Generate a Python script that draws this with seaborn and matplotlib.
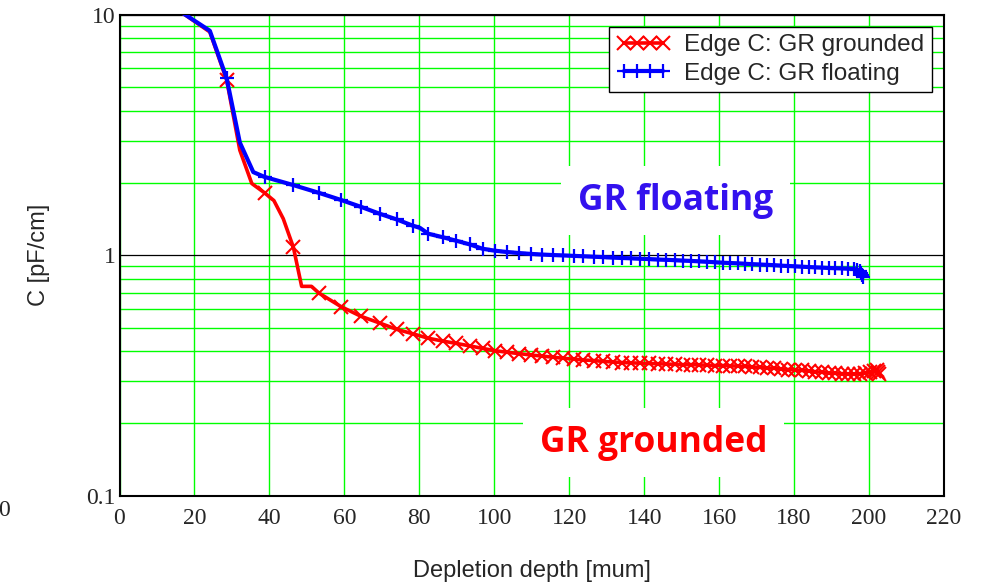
import matplotlib
matplotlib.use("Agg")
import matplotlib.pyplot as plt
import matplotlib.ticker as mticker
import numpy as np
import pandas as pd
import seaborn as sns

# ---------------- data ----------------
grounded_x = [16.0, 24.1, 28.6, 32.1, 35.3, 38.7, 41.2, 43.7, 46.4, 48.6, 51.2, 53.2,
              59.1, 64.5, 69.4, 74.0, 78.2, 82.4, 86.2, 89.9, 93.5, 96.9, 100.3, 103.5,
              106.7, 109.7, 112.7, 115.6, 118.4, 121.2, 123.8, 126.5, 129.1, 131.6, 134.1,
              136.5, 138.9, 141.3, 143.6, 145.9, 148.1, 150.3, 152.5, 154.7, 156.8, 158.9,
              160.9, 163.0, 165.0, 167.0, 168.9, 170.9, 172.8, 174.7, 176.6, 178.4, 180.3,
              182.1, 183.9, 185.7, 187.5, 189.2, 190.9, 192.7, 194.4, 196.1, 197.7, 199.0,
              200.2, 201.2, 202.0, 202.4, 202.6]
grounded_y = [10.4, 8.5, 5.36, 2.74, 1.99, 1.82, 1.69, 1.42, 1.08, 0.743, 0.743, 0.697,
              0.612, 0.557, 0.523, 0.492, 0.472, 0.452, 0.440, 0.430, 0.420, 0.410, 0.401, 0.395,
              0.390, 0.385, 0.381, 0.377, 0.373, 0.370, 0.367, 0.365, 0.362, 0.360, 0.358,
              0.357, 0.356, 0.355, 0.354, 0.353, 0.352, 0.351, 0.351, 0.350, 0.349, 0.348,
              0.348, 0.347, 0.346, 0.345, 0.343, 0.342, 0.340, 0.339, 0.337, 0.335, 0.334,
              0.332, 0.330, 0.328, 0.326, 0.324, 0.323, 0.322, 0.321, 0.321, 0.322, 0.325,
              0.328, 0.331, 0.333, 0.328, 0.322]
grounded_unmarked = [0, 1, 3, 4, 6, 7, 9, 10]

floating_x = [16.0, 24.1, 28.6, 32.1, 35.7, 38.7, 46.4, 53.2, 59.1, 64.5, 69.4, 74.0,
              78.2, 80.2, 82.4, 86.2, 89.9, 93.5, 96.9, 100.3, 103.5, 106.7, 109.7, 112.7,
              115.6, 118.4, 121.2, 123.8, 126.5, 129.1, 131.6, 134.1, 136.5, 138.9, 141.3,
              143.6, 145.9, 148.1, 150.3, 152.5, 154.7, 156.8, 158.9, 160.9, 163.0, 165.0,
              167.0, 168.9, 170.9, 172.8, 174.7, 176.6, 178.4, 180.3, 182.1, 183.9, 185.7,
              187.5, 189.2, 190.9, 192.7, 194.4, 196.1, 196.9, 197.5, 197.9, 198.2, 198.4]
floating_y = [10.4, 8.6, 5.45, 2.95, 2.22, 2.12, 1.96, 1.82, 1.70, 1.59, 1.49, 1.41,
              1.33, 1.30, 1.23, 1.19, 1.15, 1.11, 1.065, 1.045, 1.032, 1.022, 1.014, 1.008,
              1.003, 0.999, 0.995, 0.991, 0.987, 0.983, 0.979, 0.975, 0.972, 0.968, 0.965,
              0.961, 0.958, 0.955, 0.951, 0.948, 0.944, 0.940, 0.936, 0.932, 0.929, 0.926,
              0.922, 0.919, 0.916, 0.913, 0.910, 0.906, 0.903, 0.900, 0.897, 0.894, 0.891,
              0.889, 0.886, 0.884, 0.882, 0.880, 0.878, 0.872, 0.860, 0.845, 0.830, 0.815]
floating_unmarked = [0, 1, 3, 4, 13]

x_ticks = [0, 20, 40, 60, 80, 100, 120, 140, 160, 180, 200, 220]
y_ticks = [0.1, 1, 10]
y_tick_labels = ["0.1", "1", "10"]

label_grounded = "Edge C: GR grounded"
label_floating = "Edge C: GR floating"
note_floating = "GR floating"
note_grounded = "GR grounded"
x_title = "Depletion depth [mum]"
y_title = "C [pF/cm]"

# ---------------- style ----------------
sns.set_style("white")
plt.rcParams["font.family"] = ["Liberation Sans", "DejaVu Sans"]
serif = ["Liberation Serif", "DejaVu Serif"]

W, H = 985, 584
fig = plt.figure(figsize=(W / 100, H / 100), dpi=100)
ax = fig.add_axes([119.5 / W, 1 - 495.7 / H, (944 - 119.5) / W, (495.7 - 15) / H])

df_g = pd.DataFrame({"x": grounded_x, "y": grounded_y})
df_f = pd.DataFrame({"x": floating_x, "y": floating_y})
mark_g = [i for i in range(len(grounded_x)) if i not in grounded_unmarked]
mark_f = [i for i in range(len(floating_x)) if i not in floating_unmarked]

RED = "#ff0000"
BLUE = "#0000ff"
sns.lineplot(data=df_g, x="x", y="y", ax=ax, color=RED, lw=2.6,
             marker="x", markersize=10, markeredgewidth=1.5, markeredgecolor=RED,
             markerfacecolor=RED, markevery=mark_g,
             estimator=None, errorbar=None, label=label_grounded, zorder=5)
sns.lineplot(data=df_f, x="x", y="y", ax=ax, color=BLUE, lw=3.0,
             marker="+", markersize=10.5, markeredgewidth=1.6, markeredgecolor=BLUE,
             markerfacecolor=BLUE, markevery=mark_f,
             estimator=None, errorbar=None, label=label_floating, zorder=6)

ax.set_yscale("log")
ax.set_xlim(0, 220)
ax.set_ylim(0.1, 10)

ax.set_xticks(x_ticks)
ax.set_xticklabels([str(t) for t in x_ticks], family=serif, fontsize=17)
ax.yaxis.set_major_locator(mticker.FixedLocator(y_ticks))
ax.yaxis.set_major_formatter(mticker.FixedFormatter(y_tick_labels))
ax.yaxis.set_minor_locator(mticker.LogLocator(base=10, subs=np.arange(2, 10)))
ax.yaxis.set_minor_formatter(mticker.NullFormatter())
for lbl in ax.get_yticklabels():
    lbl.set_family(serif)
    lbl.set_fontsize(17)
ax.tick_params(axis="both", which="both", length=0)
ax.tick_params(axis="x", pad=9)
ax.tick_params(axis="y", pad=3)

ax.grid(axis="x", which="major", color="#00ff00", lw=1.0)
ax.grid(axis="y", which="minor", color="#00ff00", lw=1.0)
ax.grid(axis="y", which="major", color="black", lw=0.9)
ax.set_axisbelow(True)

for s in ax.spines.values():
    s.set_color("black")
    s.set_linewidth(1.5)
    s.set_visible(True)

ax.set_xlabel(x_title, fontsize=17, labelpad=22)
ax.set_ylabel(y_title, fontsize=17, labelpad=26)

ax.text(148.4, 1.55, note_floating, color="#3311ee", fontsize=25.5, fontweight="bold",
        family=["Open Sans", "DejaVu Sans"], ha="center", va="baseline", zorder=3,
        bbox=dict(facecolor="white", edgecolor="none", pad=12))
ax.text(142.5, 0.1526, note_grounded, color=RED, fontsize=25.5, fontweight="bold",
        family=["Open Sans", "DejaVu Sans"], ha="center", va="baseline", zorder=3,
        bbox=dict(facecolor="white", edgecolor="none", pad=12))

leg = ax.legend(loc="upper right", fontsize=17.5, numpoints=4, frameon=True, fancybox=False,
                framealpha=1, edgecolor="black", borderpad=0.3, labelspacing=0.25,
                handlelength=2.2, handletextpad=0.6, borderaxespad=0.5)
leg.get_frame().set_linewidth(1.0)

fig.text(4 / W, 1 - 510 / H, "0", family=serif, fontsize=17, ha="center", va="center")

fig.savefig("out.png", dpi=100)
